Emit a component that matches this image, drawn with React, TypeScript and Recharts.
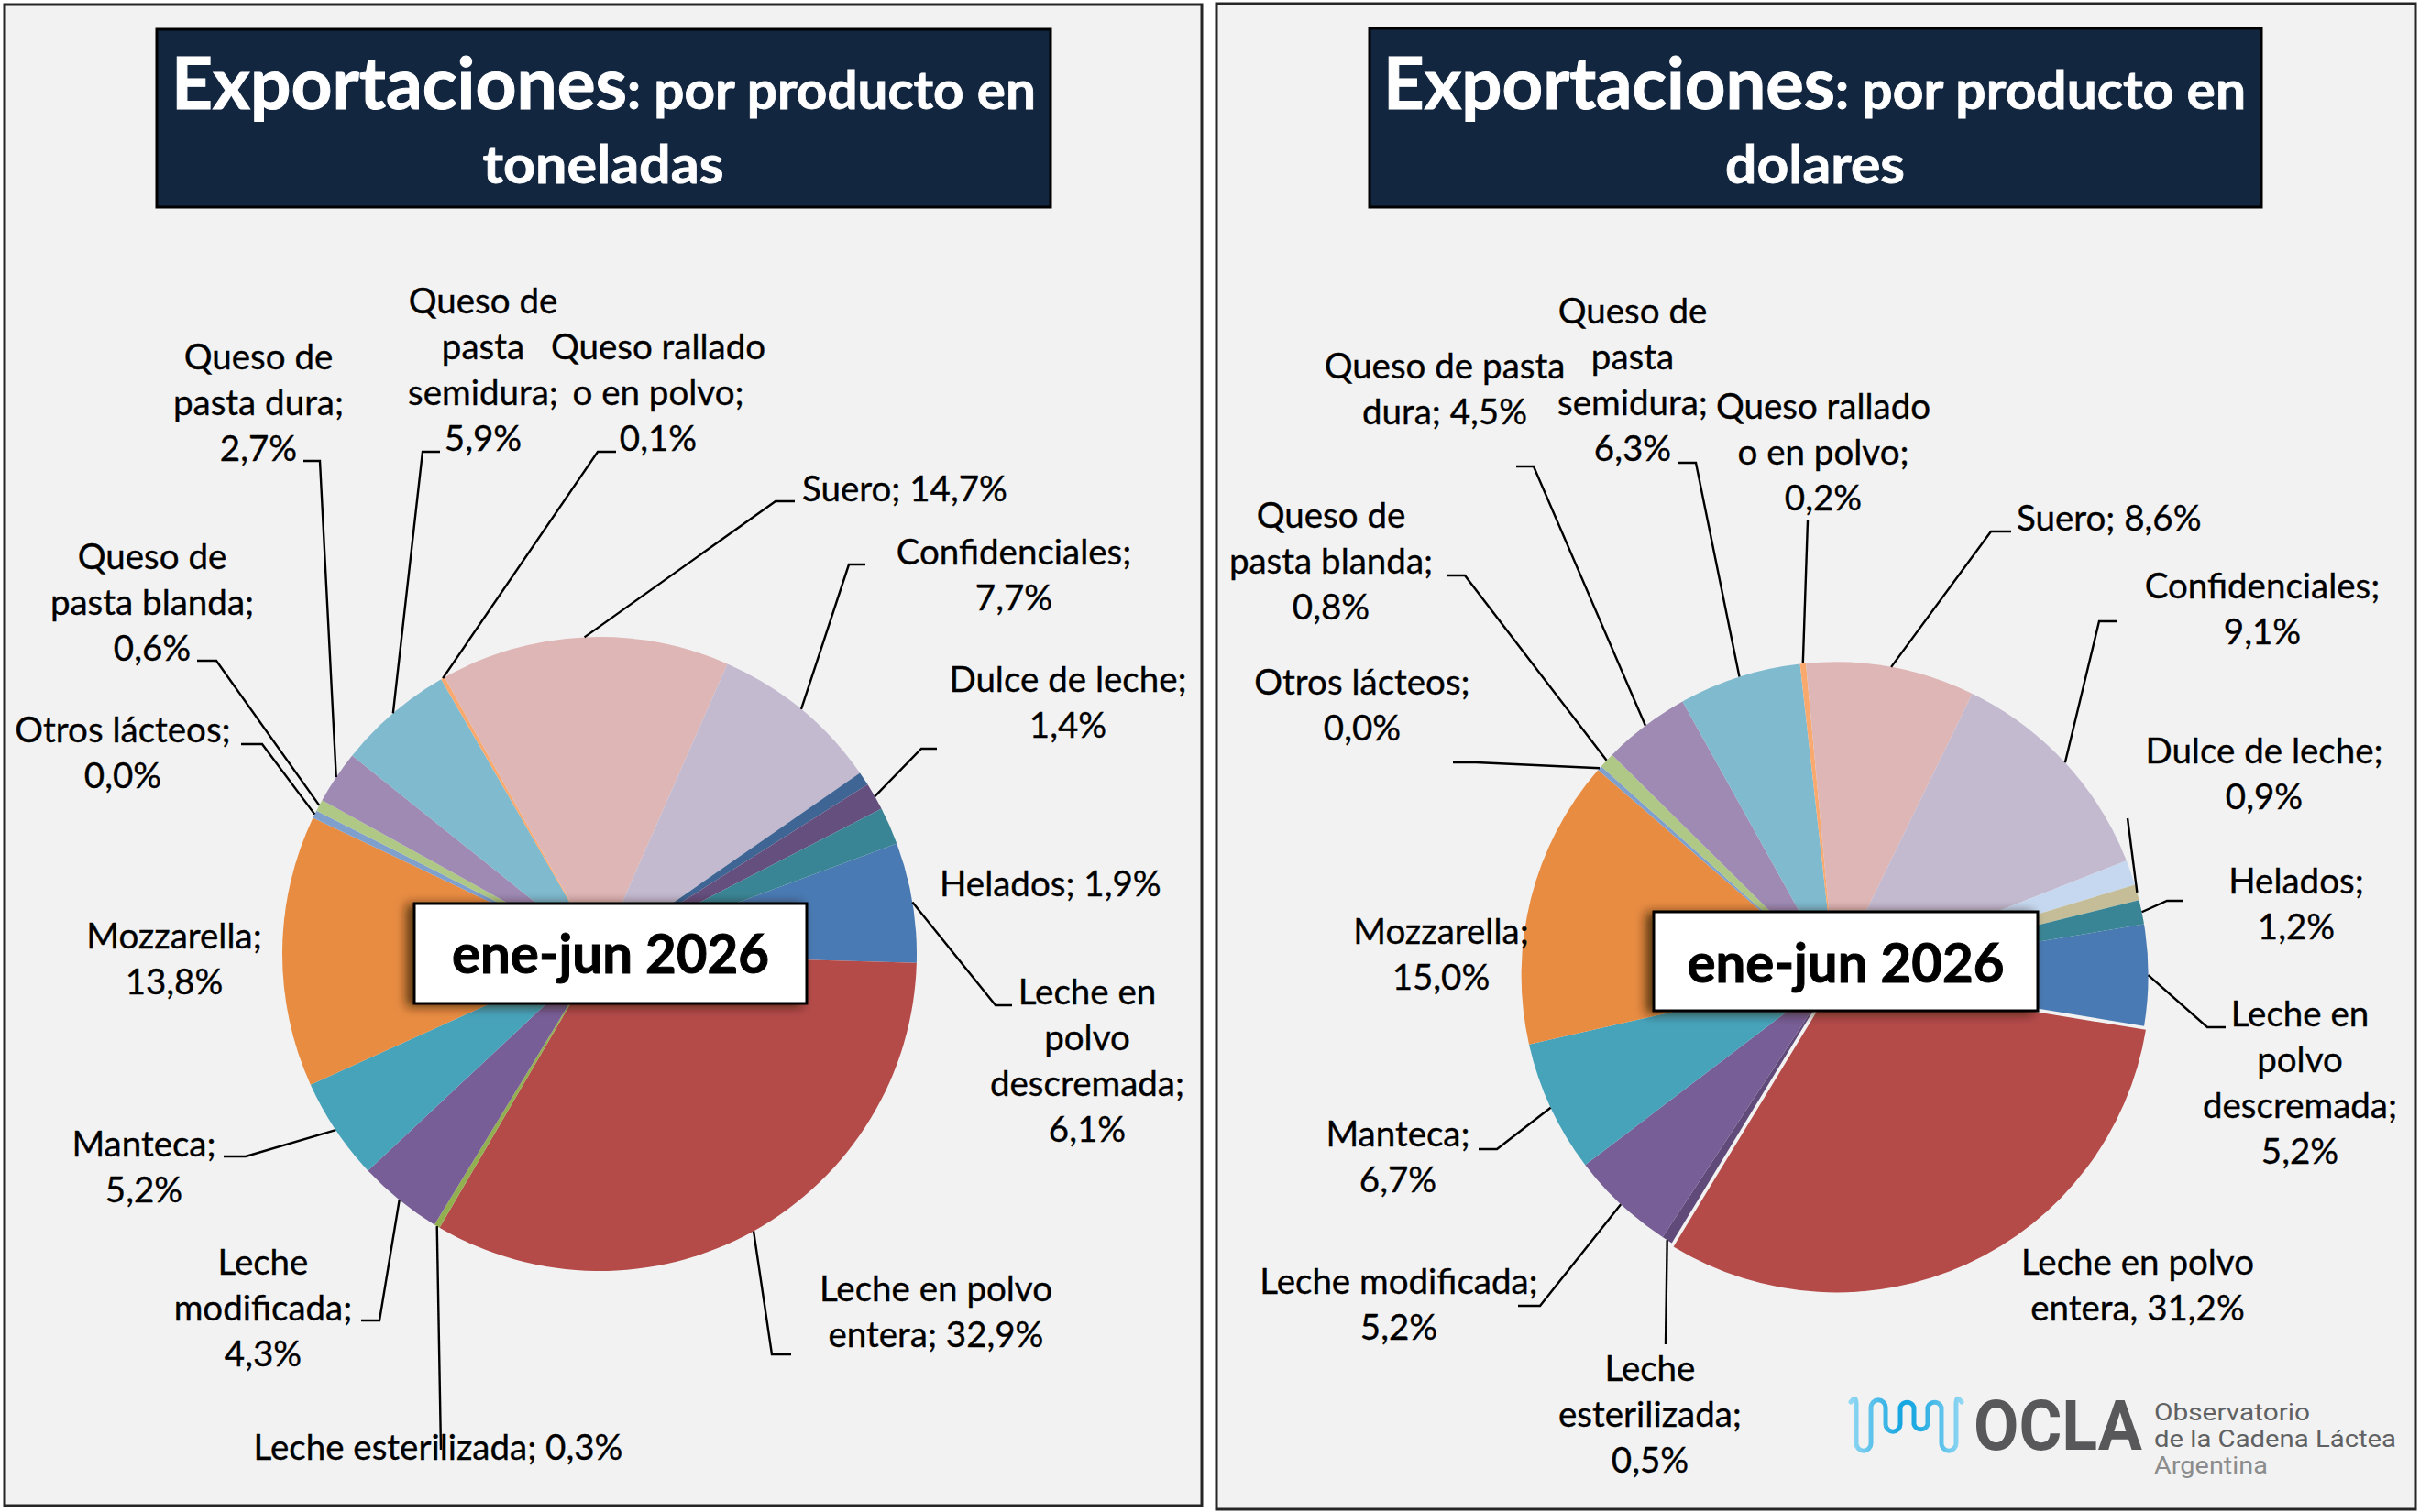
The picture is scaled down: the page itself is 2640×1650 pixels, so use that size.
import React from 'react';
import { PieChart, Pie, Cell } from 'recharts';

// ---------- DATA ----------
const categories = [
  'Leche en polvo descremada', 'Leche en polvo entera', 'Leche esterilizada', 'Leche modificada',
  'Manteca', 'Mozzarella', 'Otros lácteos', 'Queso de pasta blanda', 'Queso de pasta dura',
  'Queso de pasta semidura', 'Queso rallado o en polvo', 'Suero', 'Confidenciales', 'Otros (sin rótulo)',
  'Dulce de leche', 'Helados',
];
// share of each slice (%) as drawn in the picture
const tonShare = [6.1, 32.9, 0.3, 4.3, 5.2, 13.8, 0.4, 0.6, 2.7, 5.9, 0.2, 14.7, 8.7, 0.7, 1.4, 1.9];
const usdShare = [5.2, 31.1, 0.55, 5.4, 6.8, 14.9, 0.25, 0.8, 4.5, 6.3, 0.3, 8.7, 11.8, 1.3, 0.8, 1.25];

const tonLabels: (string[] | null)[] = [
  ['Leche en', 'polvo', 'descremada;', '6,1%'],
  ['Leche en polvo', 'entera; 32,9%'],
  ['Leche esterilizada; 0,3%'],
  ['Leche', 'modificada;', '4,3%'],
  ['Manteca;', '5,2%'],
  ['Mozzarella;', '13,8%'],
  ['Otros lácteos;', '0,0%'],
  ['Queso de', 'pasta blanda;', '0,6%'],
  ['Queso de', 'pasta dura;', '2,7%'],
  ['Queso de', 'pasta', 'semidura;', '5,9%'],
  ['Queso rallado', 'o en polvo;', '0,1%'],
  ['Suero; 14,7%'],
  ['Confidenciales;', '7,7%'],
  null,
  ['Dulce de leche;', '1,4%'],
  ['Helados; 1,9%'],
];
const usdLabels: (string[] | null)[] = [
  ['Leche en', 'polvo', 'descremada;', '5,2%'],
  ['Leche en polvo', 'entera, 31,2%'],
  ['Leche', 'esterilizada;', '0,5%'],
  ['Leche modificada;', '5,2%'],
  ['Manteca;', '6,7%'],
  ['Mozzarella;', '15,0%'],
  ['Otros lácteos;', '0,0%'],
  ['Queso de', 'pasta blanda;', '0,8%'],
  ['Queso de pasta', 'dura; 4,5%'],
  ['Queso de', 'pasta', 'semidura;', '6,3%'],
  ['Queso rallado', 'o en polvo;', '0,2%'],
  ['Suero; 8,6%'],
  ['Confidenciales;', '9,1%'],
  null,
  ['Dulce de leche;', '0,9%'],
  ['Helados;', '1,2%'],
];
const titleMain = 'Exportaciones';
const titleRest = ': por producto en';
const tonUnit = 'toneladas';
const usdUnit = 'dolares';
const periodLabel = 'ene-jun 2026';
const logoLines = ['Observatorio', 'de la Cadena Láctea', 'Argentina'];

// ---------- STYLES / LAYOUT ----------
const tonColors = ['#4A7AB3', '#B44B49', '#92B050', '#785E96', '#47A3BA', '#E88C42', '#7F9FCD', '#AFC886',
  '#9E8AB3', '#7FBACF', '#F9A96E', '#DEB6B5', '#C3BAD0', '#3E6594', '#654F7E', '#3A8595'];
const usdColors = ['#4A7AB3', '#B44B49', '#5F4A7A', '#785E96', '#47A3BA', '#E88C42', '#7F9FCD', '#AFC886',
  '#9E8AB3', '#7FBACF', '#F9A96E', '#DEB6B5', '#C3BAD0', '#C6D8EF', '#C4BD97', '#3A8595'];
const USD_EXPLODED = 1; // index of the pulled-out slice in the dollar pie
const EXPLODE = 4.5;

type Pos = { x: number; y: number; anchor: 'start' | 'middle'; leader?: [number, number][] } | null;
const tonPos: Pos[] = [
  { x: 1186, y: 1096, anchor: 'middle', leader: [[1104, 1097], [1086, 1097]] },
  { x: 1021, y: 1420, anchor: 'middle', leader: [[863, 1478], [842, 1478]] },
  { x: 478, y: 1593, anchor: 'middle', leader: [[481, 1582]] },
  { x: 287, y: 1391, anchor: 'middle', leader: [[394, 1441], [414, 1441]] },
  { x: 157, y: 1262, anchor: 'middle', leader: [[244, 1262], [268, 1262]] },
  { x: 190, y: 1035, anchor: 'middle' },
  { x: 134, y: 810, anchor: 'middle', leader: [[263, 812], [286, 812]] },
  { x: 166, y: 621, anchor: 'middle', leader: [[215, 721], [236, 721]] },
  { x: 282, y: 403, anchor: 'middle', leader: [[331, 503], [349, 503]] },
  { x: 527, y: 342, anchor: 'middle', leader: [[480, 493], [461, 493]] },
  { x: 718, y: 392, anchor: 'middle', leader: [[672, 493], [652, 493]] },
  { x: 875, y: 547, anchor: 'start', leader: [[867, 547], [846, 547]] },
  { x: 1106, y: 616, anchor: 'middle', leader: [[944, 616], [926, 616]] },
  null,
  { x: 1165, y: 755, anchor: 'middle', leader: [[1022, 817], [1005, 817]] },
  { x: 1025, y: 978, anchor: 'start' },
];
const usdPos: Pos[] = [
  { x: 2509, y: 1120, anchor: 'middle', leader: [[2428, 1121], [2408, 1121]] },
  { x: 2332, y: 1391, anchor: 'middle' },
  { x: 1800, y: 1507, anchor: 'middle', leader: [[1817, 1467]] },
  { x: 1526, y: 1412, anchor: 'middle', leader: [[1656, 1425], [1680, 1425]] },
  { x: 1525, y: 1251, anchor: 'middle', leader: [[1613, 1254], [1633, 1254]] },
  { x: 1572, y: 1030, anchor: 'middle' },
  { x: 1486, y: 758, anchor: 'middle', leader: [[1585, 832], [1610, 832]] },
  { x: 1452, y: 576, anchor: 'middle', leader: [[1578, 628], [1598, 628]] },
  { x: 1576, y: 413, anchor: 'middle', leader: [[1654, 509], [1673, 509]] },
  { x: 1781, y: 353, anchor: 'middle', leader: [[1831, 505], [1850, 505]] },
  { x: 1989, y: 457, anchor: 'middle', leader: [[1972, 568]] },
  { x: 2200, y: 579, anchor: 'start', leader: [[2194, 580], [2172, 580]] },
  { x: 2468, y: 653, anchor: 'middle', leader: [[2309, 678], [2290, 678]] },
  null,
  { x: 2470, y: 833, anchor: 'middle', leader: [[2321, 893]] },
  { x: 2505, y: 975, anchor: 'middle', leader: [[2382, 983], [2364, 983]] },
];

const FONT = 'Lato, "Open Sans", sans-serif';
const LABEL_SIZE = 38.5;
const LINE_H = 50;
const RAD = Math.PI / 180;

const tonData = categories.map((name, i) => ({ name, value: tonShare[i] }));
const usdData = categories.map((name, i) => ({ name, value: usdShare[i] }));

const TON_C = { cx: 654, cy: 1041, r: 346, start: 20.4 };
const USD_C = { cx: 2001.6, cy: 1064.3, r: 342, start: 9.4 };

// mid angle (screen direction) of the exploded slice, from the dollar shares
const usdTotal = usdShare.reduce((a, b) => a + b, 0);
const usdBefore = usdShare.slice(0, USD_EXPLODED).reduce((a, b) => a + b, 0);
const explodeMid = USD_C.start - ((usdBefore + usdShare[USD_EXPLODED] / 2) / usdTotal) * 360;
const explodeDx = EXPLODE * Math.cos(-explodeMid * RAD);
const explodeDy = EXPLODE * Math.sin(-explodeMid * RAD);

function makeLabel(lines: (string[] | null)[], pos: Pos[]) {
  return (props: any) => {
    const { cx, cy, midAngle, outerRadius, index } = props;
    const p = pos[index];
    const t = lines[index];
    if (!p || !t) return null;
    const ax = cx + outerRadius * Math.cos(-midAngle * RAD);
    const ay = cy + outerRadius * Math.sin(-midAngle * RAD);
    const pts = p.leader ? [...p.leader, [ax, ay]] : null;
    return (
      <g key={`lab-${index}`}>
        {pts && (
          <polyline points={pts.map((q) => q.join(',')).join(' ')} fill="none" stroke="#000" strokeWidth={2.4} />
        )}
        {t.map((s, i) => (
          <text key={i} x={p.x} y={p.y + i * LINE_H} textAnchor={p.anchor} fontFamily={FONT}
            fontSize={LABEL_SIZE} fill="#000" stroke="#000" strokeWidth={0.35}>{s}</text>
        ))}
      </g>
    );
  };
}

function TitleBox({ x0, x1, y0, y1, cx, unit, mainStart, mainW, restW, unitW }: any) {
  return (
    <g>
      <rect x={x0} y={y0} width={x1 - x0} height={y1 - y0} fill="#12263F" stroke="#000" strokeWidth={3} />
      <text x={mainStart} y={119} fontFamily={FONT} fontWeight={700} fontSize={78} fill="#fff"
        stroke="#fff" strokeWidth={1} textLength={mainW} lengthAdjust="spacingAndGlyphs">{titleMain}</text>
      <text x={mainStart + mainW} y={119} fontFamily={FONT} fontWeight={700} fontSize={58} fill="#fff"
        stroke="#fff" strokeWidth={0.8} textLength={restW} lengthAdjust="spacingAndGlyphs">{titleRest}</text>
      <text x={cx} y={200} textAnchor="middle" fontFamily={FONT} fontWeight={700} fontSize={58} fill="#fff"
        stroke="#fff" strokeWidth={0.8} textLength={unitW} lengthAdjust="spacingAndGlyphs">{unit}</text>
    </g>
  );
}

function PeriodBox({ x0, x1, y0, y1, base }: any) {
  return (
    <g>
      <rect x={x0} y={y0} width={x1 - x0} height={y1 - y0} fill="#fff" stroke="#000" strokeWidth={3}
        filter="url(#boxShadow)" />
      <text x={(x0 + x1) / 2} y={base} textAnchor="middle" fontFamily={FONT} fontWeight={700} fontSize={60}
        fill="#000" stroke="#000" strokeWidth={1} textLength={346} lengthAdjust="spacingAndGlyphs">{periodLabel}</text>
    </g>
  );
}

function Logo() {
  const T = 1528, B = 1583, M = 1562, r = 7.8;
  const d = [
    `M 2019 1530 Q 2025 1521 2025 1533`,
    `L 2025 ${B - r} A ${r} ${r} 0 0 0 2041 ${B - r}`,
    `L 2041 ${T + r} A ${r} ${r} 0 0 1 2057 ${T + r}`,
    `L 2057 ${M - r} A ${r} ${r} 0 0 0 2073 ${M - r}`,
    `L 2073 ${T + r} A ${r} ${r} 0 0 1 2088 ${T + r}`,
    `L 2088 ${M - r} A ${r} ${r} 0 0 0 2103 ${M - r}`,
    `L 2103 ${T + r} A ${r} ${r} 0 0 1 2118 ${T + r}`,
    `L 2118 ${B - r} A ${r} ${r} 0 0 0 2134 ${B - r}`,
    `L 2134 1533 Q 2134 1521 2140 1530`,
  ].join(' ');
  const lineW = [170, 264, 124];
  const lineC = ['#606163', '#606163', '#8C8C8C'];
  return (
    <g>
      <defs>
        <linearGradient id="waveGrad" x1="2018" x2="2141" y1="0" y2="0" gradientUnits="userSpaceOnUse">
          <stop offset="0" stopColor="#93D8F3" />
          <stop offset="0.45" stopColor="#16A6E0" />
          <stop offset="0.6" stopColor="#1FAAE2" />
          <stop offset="1" stopColor="#93D8F3" />
        </linearGradient>
      </defs>
      <path d={d} fill="none" stroke="url(#waveGrad)" strokeWidth={5} strokeLinecap="round" />
      <text x={2153} y={1582} fontFamily="Roboto, sans-serif" fontWeight={700} fontSize={76} fill="#58585A"
        textLength={184} lengthAdjust="spacingAndGlyphs">OCLA</text>
      {logoLines.map((s, i) => (
        <text key={s} x={2350} y={1550 + i * 29} fontFamily="Roboto, sans-serif" fontSize={26} fill={lineC[i]}
          textLength={lineW[i]} lengthAdjust="spacingAndGlyphs">{s}</text>
      ))}
    </g>
  );
}

export default function App() {
  return (
    <div style={{ position: 'absolute', left: 0, top: 0, width: 2640, height: 1650, background: '#fff' }}>
      <svg width={2640} height={1650} style={{ position: 'absolute', left: 0, top: 0 }}>
        <rect x={5} y={5} width={1306} height={1638} fill="#F2F2F2" stroke="#262626" strokeWidth={3} />
        <rect x={1327} y={4} width={1308} height={1643} fill="#F2F2F2" stroke="#262626" strokeWidth={3} />
        <TitleBox x0={171} x1={1146} y0={32} y1={226} cx={658} unit={tonUnit} mainStart={187} mainW={497}
          restW={446} unitW={263} />
        <TitleBox x0={1494} x1={2467} y0={31} y1={226} cx={1980} unit={usdUnit} mainStart={1509} mainW={493}
          restW={448} unitW={196} />
      </svg>
      <div style={{ position: 'absolute', left: 0, top: 0 }}>
        <PieChart width={2640} height={1650} margin={{ top: 0, right: 0, bottom: 0, left: 0 }}>
          <Pie data={tonData} dataKey="value" nameKey="name" cx={TON_C.cx} cy={TON_C.cy} outerRadius={TON_C.r}
            innerRadius={0} startAngle={TON_C.start} endAngle={TON_C.start - 360} isAnimationActive={false}
            stroke="none" labelLine={false} label={makeLabel(tonLabels, tonPos)}>
            {tonData.map((d, i) => (
              <Cell key={d.name} fill={tonColors[i]} stroke="none" />
            ))}
          </Pie>
          <Pie data={usdData} dataKey="value" nameKey="name" cx={USD_C.cx} cy={USD_C.cy} outerRadius={USD_C.r}
            innerRadius={0} startAngle={USD_C.start} endAngle={USD_C.start - 360} isAnimationActive={false}
            stroke="none" labelLine={false} label={makeLabel(usdLabels, usdPos)}>
            {usdData.map((d, i) => (
              <Cell key={d.name} fill={i === USD_EXPLODED ? 'none' : usdColors[i]} stroke="none" />
            ))}
          </Pie>
          {/* the pulled-out slice: same data and angles, centre shifted along its mid angle */}
          <Pie data={usdData} dataKey="value" nameKey="name" cx={USD_C.cx + explodeDx} cy={USD_C.cy + explodeDy}
            outerRadius={USD_C.r} innerRadius={0} startAngle={USD_C.start} endAngle={USD_C.start - 360}
            isAnimationActive={false} stroke="none" labelLine={false} label={false}>
            {usdData.map((d, i) => (
              <Cell key={d.name} fill={i === USD_EXPLODED ? usdColors[i] : 'none'} stroke="none" />
            ))}
          </Pie>
        </PieChart>
      </div>
      <svg width={2640} height={1650} style={{ position: 'absolute', left: 0, top: 0, pointerEvents: 'none' }}>
        <defs>
          <filter id="boxShadow" x="-20%" y="-40%" width="140%" height="180%">
            <feDropShadow dx={-7} dy={2} stdDeviation={6} floodColor="#2a1a05" floodOpacity={0.75} />
          </filter>
        </defs>
        <PeriodBox x0={452} x1={880} y0={986} y1={1095} base={1062} />
        <PeriodBox x0={1804} x1={2223} y0={995} y1={1103} base={1072} />
        <Logo />
      </svg>
    </div>
  );
}
